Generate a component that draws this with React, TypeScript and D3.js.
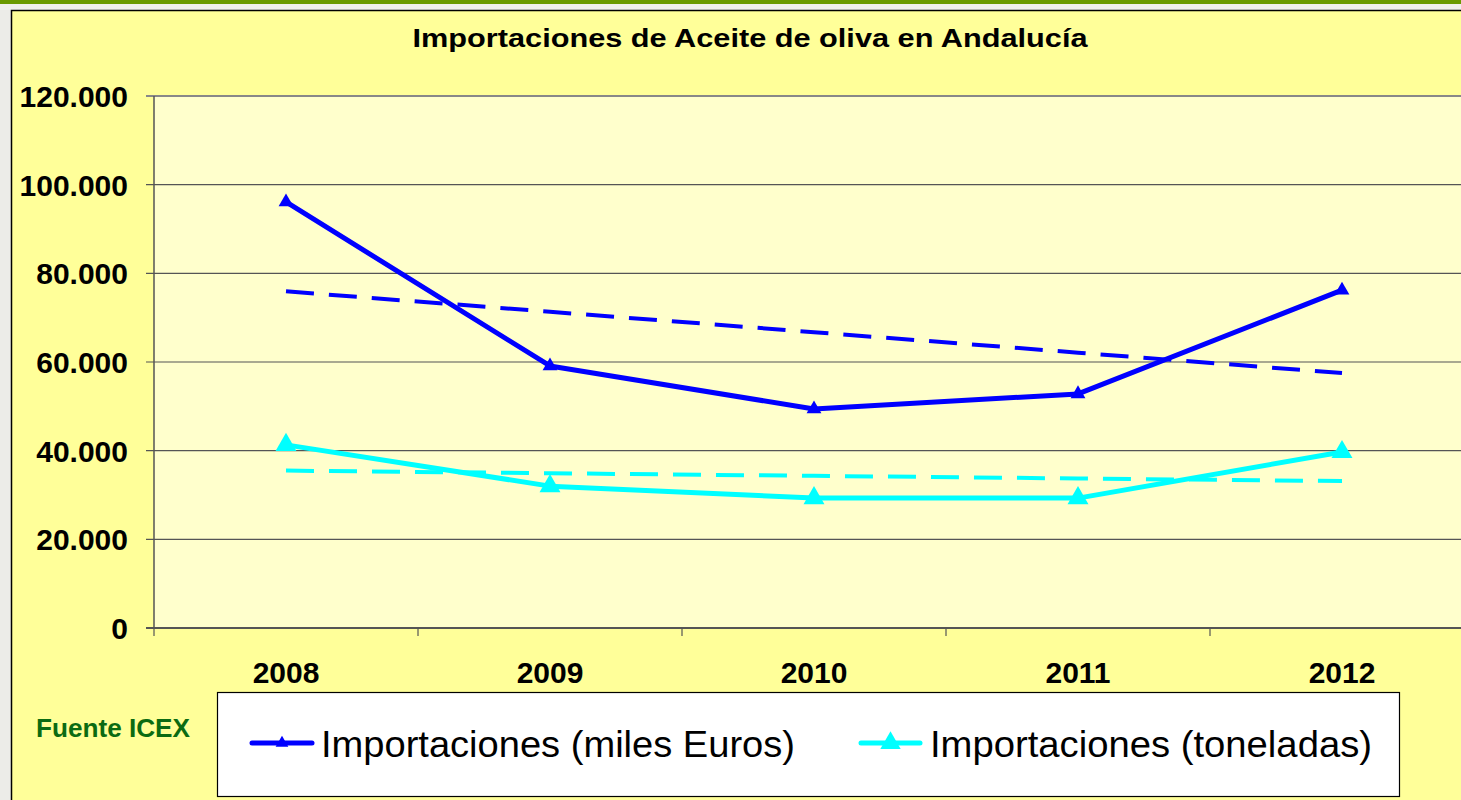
import React from "react";
import * as d3 from "d3";

const years = ["2008", "2009", "2010", "2011", "2012"];
const milesEuros = [96100, 59100, 49400, 52800, 76200];
const toneladas = [41300, 32000, 29300, 29300, 39700];
const yTicks = [0, 20000, 40000, 60000, 80000, 100000, 120000];
const yTickLabels = ["0", "20.000", "40.000", "60.000", "80.000", "100.000", "120.000"];
const title = "Importaciones de Aceite de oliva en Andalucía";
const seriesNames = ["Importaciones (miles Euros)", "Importaciones (toneladas)"];
const source = "Fuente ICEX";

const W = 1461;
const H = 800;
const font = "'Liberation Sans', Arial, Helvetica, sans-serif";

function trend(vals: number[]): number[] {
  const xs = vals.map((_, i) => i);
  const mx = d3.mean(xs) as number;
  const my = d3.mean(vals) as number;
  let num = 0;
  let den = 0;
  xs.forEach((x, i) => {
    num += (x - mx) * (vals[i] - my);
    den += (x - mx) * (x - mx);
  });
  const b = num / den;
  const a = my - b * mx;
  return xs.map((x) => a + b * x);
}

export default function App() {
  const plotL = 154;
  const plotT = 96;
  const plotB = 628;
  const band = 264;
  const x = d3.scaleBand<string>().domain(years).range([plotL, plotL + band * years.length]).padding(0);
  const y = d3.scaleLinear().domain([0, 120000]).range([plotB, plotT]);
  const cx = (yr: string) => (x(yr) as number) + x.bandwidth() / 2;

  const line = d3
    .line<number>()
    .x((_, i) => cx(years[i]))
    .y((v) => y(v));

  const series = [
    { vals: milesEuros, color: "#0000ff", tri: 95, legTri: 70 },
    { vals: toneladas, color: "#00ffff", tri: 190, legTri: 180 },
  ];

  const triPath = (size: number) => d3.symbol().type(d3.symbolTriangle).size(size)() as string;

  return (
    <svg
      width={W}
      height={H}
      style={{ position: "absolute", left: 0, top: 0, display: "block" }}
      fontFamily={font}
    >
      {/* page background */}
      <rect x={0} y={0} width={W} height={H} fill="#ecece8" />
      <rect x={0} y={0} width={W} height={4} fill="#6a9a00" />
      <rect x={0} y={4} width={W} height={6} fill="#f0f0ec" />
      {/* chart area */}
      <rect x={11.5} y={10.5} width={W} height={H} fill="#ffff99" stroke="#000" strokeWidth={1.5} />
      {/* plot area */}
      <rect x={plotL} y={plotT} width={W - plotL + 20} height={plotB - plotT} fill="#ffffcc" />
      {/* gridlines */}
      {yTicks.map((t) => (
        <line
          key={"g" + t}
          x1={plotL - 8}
          x2={W}
          y1={y(t)}
          y2={y(t)}
          stroke={t === 120000 ? "#888" : "#555"}
          strokeWidth={t === 120000 || t === 0 ? 2 : 1.2}
        />
      ))}
      <line x1={plotL} x2={plotL} y1={plotT} y2={plotB} stroke="#555" strokeWidth={1.5} />
      {/* x ticks */}
      {years.map((yr) => (
        <line
          key={"xt" + yr}
          x1={x(yr) as number}
          x2={x(yr) as number}
          y1={plotB}
          y2={plotB + 8}
          stroke="#555"
          strokeWidth={1.2}
        />
      ))}
      {/* y labels */}
      {yTicks.map((t, i) => (
        <text
          key={"yl" + t}
          x={128}
          y={y(t) + 11}
          textAnchor="end"
          fontSize={30}
          fontWeight="bold"
          fill="#000"
        >
          {yTickLabels[i]}
        </text>
      ))}
      {/* x labels */}
      {years.map((yr) => (
        <text key={"xl" + yr} x={cx(yr)} y={683} textAnchor="middle" fontSize={30} fontWeight="bold" fill="#000">
          {yr}
        </text>
      ))}
      {/* title */}
      <text x={750} y={47} textAnchor="middle" fontSize={26} fontWeight="bold" fill="#000" textLength={675} lengthAdjust="spacingAndGlyphs">
        {title}
      </text>
      {/* trend lines */}
      {series.map((s, i) => (
        <path
          key={"tr" + i}
          d={line(trend(s.vals)) as string}
          fill="none"
          stroke={s.color}
          strokeWidth={4}
          strokeDasharray="28 15"
        />
      ))}
      {/* series lines */}
      {series.map((s, i) => (
        <g key={"s" + i}>
          <path d={line(s.vals) as string} fill="none" stroke={s.color} strokeWidth={5} strokeLinejoin="round" />
          {s.vals.map((v, j) => (
            <path
              key={j}
              d={triPath(s.tri)}
              transform={`translate(${cx(years[j])},${y(v)})`}
              fill={s.color}
            />
          ))}
        </g>
      ))}
      {/* source */}
      <text x={36} y={737} fontSize={25} fontWeight="bold" fill="#0b6b12" textLength={154} lengthAdjust="spacingAndGlyphs">
        {source}
      </text>
      {/* legend */}
      <rect x={217.5} y={692.5} width={1182} height={104} fill="#ffffff" stroke="#000" strokeWidth={1.2} />
      {[
        { lx1: 252, lx2: 312, tx: 321, tlen: 474 },
        { lx1: 861, lx2: 920, tx: 930, tlen: 442 },
      ].map((p, i) => (
        <g key={"lg" + i}>
          <line x1={p.lx1} x2={p.lx2} y1={743} y2={743} stroke={series[i].color} strokeWidth={5} strokeLinecap="round" />
          <path d={triPath(series[i].legTri)} transform={`translate(${(p.lx1 + p.lx2) / 2},${743})`} fill={series[i].color} />
          <text x={p.tx} y={757} fontSize={37} fill="#000" textLength={p.tlen} lengthAdjust="spacingAndGlyphs">
            {seriesNames[i]}
          </text>
        </g>
      ))}
    </svg>
  );
}
